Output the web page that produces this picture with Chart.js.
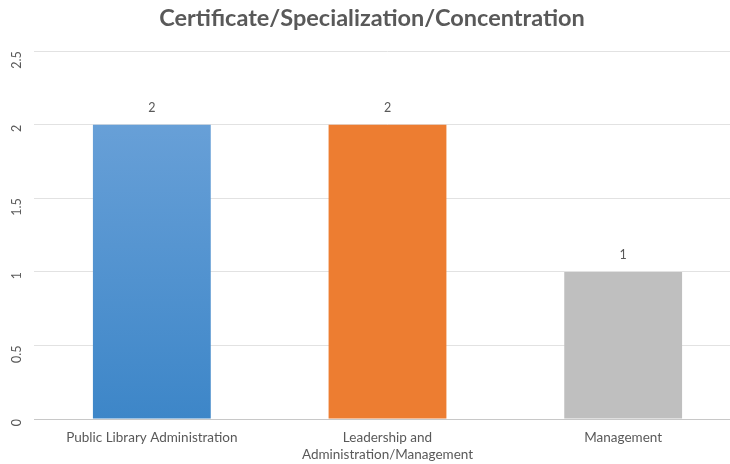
<!DOCTYPE html>
<html><head><meta charset="utf-8">
<script src="https://cdn.jsdelivr.net/npm/chart.js@4/dist/chart.umd.min.js"></script>
<style>html,body{margin:0;padding:0;background:#fff;overflow:hidden;width:730px;height:464px}#wrap{width:750px;height:464px}</style>
</head><body><div id="wrap"><canvas id="c"></canvas></div>
<script>
const categories = [["Public Library Administration"], ["Leadership and", "Administration/Management"], ["Management"]];
const values = [2, 2, 1];
const yTicks = [0, 0.5, 1, 1.5, 2, 2.5];
const title = "Certificate/Specialization/Concentration";

const FONT = "Lato, 'Open Sans', sans-serif";
const TXT = "#595959";

const labelPlugin = {
  id: 'vals',
  afterDatasetsDraw(chart) {
    const ctx = chart.ctx;
    const meta = chart.getDatasetMeta(0);
    ctx.save();
    ctx.font = "12.5px " + FONT;
    ctx.fillStyle = TXT;
    ctx.textAlign = 'center';
    ctx.textBaseline = 'middle';
    meta.data.forEach((bar, i) => {
      ctx.fillText(String(values[i]), bar.x, bar.y - 17);
    });
    ctx.restore();
  }
};

function bg(context) {
  const i = context.dataIndex;
  const chart = context.chart;
  const area = chart.chartArea;
  if (!area) return '#5b9bd5';
  if (i === 0) {
    const g = chart.ctx.createLinearGradient(0, area.top, 0, area.bottom);
    g.addColorStop(0, '#72a6db');
    g.addColorStop(1, '#3d86c8');
    return g;
  }
  if (i === 1) return '#ed7d31';
  return '#bfbfbf';
}

new Chart(document.getElementById('c'), {
  type: 'bar',
  data: {
    labels: categories,
    datasets: [{
      data: values,
      backgroundColor: bg,
      borderWidth: 0,
      barPercentage: 0.5,
      categoryPercentage: 1
    }]
  },
  options: {
    responsive: true,
    maintainAspectRatio: false,
    animation: false,
    layout: { padding: { top: 4, right: 9, bottom: 0, left: 3 } },
    plugins: {
      legend: { display: false },
      tooltip: { enabled: false },
      title: {
        display: true,
        text: title,
        color: TXT,
        font: { family: FONT, size: 23.5, weight: 'bold' },
        padding: { top: 0, bottom: 19 }
      }
    },
    scales: {
      x: {
        afterFit(scale) { scale.height = 45; },
        grid: { display: false, drawTicks: false },
        border: { display: true, color: '#c8c8c8', width: 1 },
        ticks: { color: TXT, font: { family: FONT, size: 13.5, lineHeight: 1.25 }, padding: 10, maxRotation: 0 }
      },
      y: {
        min: 0, max: 2.5,
        afterBuildTicks(scale) { scale.ticks = yTicks.map(v => ({ value: v })); },
        afterFit(scale) { scale.width = 31; },
        grid: { color: '#e2e2e2', drawTicks: false },
        border: { display: false },
        ticks: {
          color: TXT, font: { family: FONT, size: 12.5 }, padding: 17,
          minRotation: 90, maxRotation: 90,
          callback: (v) => String(v)
        }
      }
    }
  },
  plugins: [labelPlugin]
});
</script>
</body></html>
